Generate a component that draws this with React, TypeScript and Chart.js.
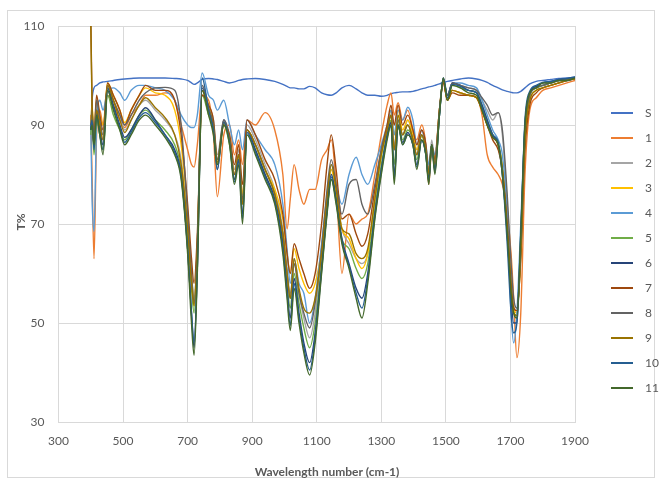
import React, { useEffect, useRef } from 'react';
import { Chart, registerables } from 'chart.js';

Chart.register(...registerables);

const wavenumbers = [
  400, 404, 410, 418, 428, 438, 452, 470, 490, 505,
  525, 550, 570, 600, 630, 660, 680, 700, 712, 720,
  730, 745, 765, 780, 792, 812, 830, 845, 858, 870,
  884, 910, 940, 970, 995, 1008, 1018, 1030, 1045, 1060,
  1078, 1095, 1115, 1132, 1145, 1160, 1178, 1200, 1222, 1240,
  1258, 1280, 1300, 1318, 1330, 1340, 1352, 1366, 1382, 1398,
  1410, 1425, 1438, 1447, 1456, 1466, 1480, 1492, 1505, 1520,
  1545, 1570, 1595, 1612, 1628, 1645, 1662, 1675, 1690, 1702,
  1710, 1720, 1732, 1745, 1760, 1780, 1800, 1825, 1850, 1875,
  1900,
];

const seriesS = [
  89, 95, 97.5, 98, 98.5, 98.7, 98.8, 99, 99.2, 99.3,
  99.4, 99.5, 99.5, 99.5, 99.5, 99.4, 99.3, 99, 98.5, 98.2,
  98.5, 99.2, 99.4, 99.3, 99.2, 98.8, 98.5, 98.7, 99, 99.2,
  99.3, 99.4, 99.2, 98.8, 98.2, 97.8, 97.5, 97.5, 97.3, 97.3,
  97.8, 97.5, 96.5, 96.1, 96, 96.5, 97.5, 98, 97.3, 96.5,
  96, 96, 95.8, 96, 96.3, 96.5, 96.6, 96.7, 96.7, 96.8,
  97, 97.3, 97.5, 97.7, 97.8, 98, 98.3, 98.6, 98.8, 99,
  99.3, 99.5, 99.3, 99, 98.6, 98, 97.5, 97.1, 96.8, 96.6,
  96.5, 96.5, 96.8, 97.5, 98.3, 98.8, 99, 99.2, 99.4, 99.5,
  99.7,
];
const series1 = [
  92, 80, 63, 88, 93, 90, 96, 94, 91, 89.5,
  92, 94, 96, 96, 96.5, 95, 90, 85, 82, 81.5,
  86, 96, 95, 88, 75.5, 88, 90, 84, 87, 82,
  91, 90, 92.5, 89, 80, 69, 75, 82, 77, 74,
  77, 77, 83, 85, 87, 78, 60, 72, 70, 71,
  72, 80, 88, 94, 96.5, 92, 94.5, 91, 93, 89,
  87, 90, 86, 78, 85, 84, 93, 98.5, 95, 97,
  96.5, 96, 95.5, 92, 84, 81.5, 80, 78, 72, 64,
  55, 43, 52, 80, 93, 95.5, 97, 97.5, 98, 98.5,
  99,
];
const series2 = [
  89, 92, 85, 93, 90, 87, 98, 95, 92, 89,
  91, 94, 95, 93, 91, 88, 83, 70, 60, 55,
  66, 98, 94, 91, 84, 91, 88, 81, 85, 76,
  90, 87, 82, 77, 69, 61, 56, 62, 56, 51,
  47, 52, 64, 75, 81, 77, 69, 66, 63, 62,
  64, 75, 84, 89, 92, 86, 92, 88, 91, 88,
  85, 89, 85, 81, 87, 83, 93, 99, 96, 98.5,
  98, 97.5, 97, 95, 93, 91, 92.5, 88, 74, 60,
  54, 53, 66, 88, 96, 97.5, 98, 98.5, 99, 99.3,
  99.6,
];
const series3 = [
  90, 94, 88, 95, 92, 90, 98.5, 96, 93, 90.5,
  93, 96, 97.5, 96.5, 96, 93, 86, 72, 60, 53.5,
  66, 97, 94, 90, 82, 90, 87, 80, 84, 76,
  89, 86, 81, 77, 71, 64, 60, 65, 61, 58,
  56, 58, 65, 75, 81, 76, 69, 67, 63, 61,
  64, 75, 84, 89, 93, 88, 93, 89, 91, 88,
  85, 88, 85, 80, 86, 83, 93, 99, 95, 97,
  96.5, 96, 95.5, 93, 90, 88, 86, 82, 70, 58,
  53, 52, 64, 87, 95, 97, 97.5, 98, 98.5, 99,
  99.4,
];
const series4 = [
  90, 75, 68.5, 90, 95, 93, 97, 97.5, 96.5, 95,
  97, 98, 98, 97.5, 97, 95, 92, 90, 89.5, 89.5,
  92, 100.5, 96, 95, 93, 95, 90, 86, 89, 85,
  91, 88, 85, 82, 74, 65, 58, 63, 58, 56,
  50, 55, 66, 76, 82, 78, 74, 80, 83.5, 80,
  78, 82, 86, 90, 93, 88, 93, 91, 93.6, 91,
  86, 89, 86, 82, 86, 84, 92, 99, 96, 98.5,
  98.5, 98, 97.5, 95, 92, 89, 87, 84, 72, 52,
  46, 52, 70, 90, 96, 97.5, 98, 98.5, 99, 99,
  99.5,
];
const series5 = [
  88, 91, 84, 91, 88, 85, 96, 92, 89, 87,
  89, 92, 93, 91, 89, 86, 81, 68, 57, 52,
  64, 96, 92, 89, 82, 90, 86, 79, 83, 74,
  88, 85, 80, 75, 67, 58, 53, 60, 54, 49,
  45, 50, 62, 73, 79, 75, 67, 65, 61, 59,
  62, 73, 82, 88, 91, 82, 91, 87, 89, 87,
  83, 88, 84, 79, 86, 81, 92, 99, 95, 98,
  97.5, 97, 96.5, 94, 91, 88, 86.5, 81, 69, 57,
  52, 51.5, 66, 89, 96, 97.5, 98, 98.5, 99, 99.2,
  99.5,
];
const series6 = [
  89, 91, 86, 93, 89, 86, 97.5, 94, 90, 87.5,
  89, 92, 93.5, 91, 88, 85, 80, 65, 52, 45,
  61, 97.5, 93, 89, 81, 91, 87, 79, 83, 72,
  89, 85, 80, 75, 66, 57, 51, 59, 52, 46,
  42, 48, 61, 73, 80, 75, 67, 62, 57, 55,
  60, 72, 81, 88, 90.5, 80, 90, 86.5, 88.5, 86,
  82, 87, 84, 79, 86, 81, 92, 99.5, 96, 98.5,
  98, 97, 96.5, 94, 91, 88, 86, 80, 68, 55,
  50, 50, 67, 90, 96.5, 97.8, 98.5, 98.8, 99.2, 99.3,
  99.6,
];
const series7 = [
  112, 95, 88, 96, 92, 89, 98.5, 96, 93, 90,
  93, 96, 98, 97, 97, 95, 88, 74, 63, 58,
  68, 96, 94, 91, 83, 90, 88, 82, 86, 78,
  91, 88, 83, 79, 72, 64, 60, 66, 63, 60,
  57, 60, 70, 82, 88, 81, 71, 72, 68, 65.5,
  68, 77, 85, 90, 94, 90, 94, 90, 92, 89,
  86, 89, 86, 80, 86, 83, 93, 98.5, 95, 96.5,
  96, 96, 95.5, 93, 90, 87, 85, 81, 70, 58,
  53, 52.5, 63, 85, 94, 96.5, 97.5, 98, 98.5, 99,
  99.3,
];
const series8 = [
  90, 93, 87, 95, 91, 88, 98, 95, 92, 90,
  92, 95, 96.5, 97.5, 97.6, 97, 90, 72, 60, 54,
  66, 98, 93.5, 90, 83, 91, 87, 80, 84, 75,
  89, 86, 81, 76, 68, 60, 55, 62, 56, 52,
  49, 54, 65, 77, 83, 78, 72, 78, 79, 74,
  72, 78, 85, 89, 92, 85, 91, 88, 90, 87,
  84, 88, 85, 80, 86, 82, 93, 99, 96, 98.5,
  98, 97.5, 97, 95.5, 94, 92, 92.5, 89, 76, 62,
  55, 53, 65, 88, 96, 97.5, 98, 98.5, 99, 99.2,
  99.5,
];
const series9 = [
  111, 93, 86, 93, 90, 87, 98, 95, 91, 88.5,
  91, 94, 95.5, 93.5, 91.5, 88, 82, 69, 58, 53.5,
  65, 97, 93, 89.5, 82.5, 90.5, 87, 80, 84, 74,
  89, 86, 81, 76, 68, 60, 55, 63, 57, 53,
  52, 55, 64, 75, 82, 77, 69, 68, 64, 63,
  65, 75, 84, 89, 92, 85, 92, 88, 90, 87,
  84, 88, 85, 80, 86, 82, 92.5, 99, 95, 97,
  96.5, 96, 95.5, 93, 90, 87.5, 86, 81, 69, 57,
  52, 51.5, 64, 87, 95, 97, 97.5, 98, 98.5, 99,
  99.3,
];
const series10 = [
  89, 91, 85, 92, 88, 85, 97, 93.5, 89.5, 86.5,
  88.5, 91.5, 92.5, 90.5, 88, 84.5, 79.5, 65, 52, 46,
  61, 99.5, 93, 89, 81, 90.5, 86.5, 78.5, 83, 71,
  88.5, 84.5, 79.5, 74.5, 65, 56, 49.5, 58, 51, 45,
  40.5, 47, 60.5, 72.5, 79.5, 74.5, 66.5, 61.5, 56, 53,
  59, 71.5, 80.5, 87.5, 90, 79, 90, 86, 88, 86,
  81.5, 87, 84, 78.5, 86, 80.5, 92, 99.5, 95.5, 98.2,
  97.8, 97, 96.5, 93.5, 90.5, 88, 86.5, 80, 66, 52,
  48, 50, 68, 91, 96.8, 98, 98.6, 98.8, 99.2, 99.4,
  99.7,
];
const series11 = [
  89, 90, 86, 92, 88, 84, 97, 93, 89, 86,
  88, 91, 92, 90, 87.5, 84, 79, 64, 50, 43.5,
  60, 97, 92, 88, 82, 90, 86, 78, 82, 70,
  88, 84, 79, 74, 64, 55, 48.5, 57, 50, 44,
  39.5, 46, 60, 72, 79, 74, 66, 61, 55, 51,
  58, 71, 80, 87, 90, 78, 90, 86, 88, 86,
  81, 87, 84, 78, 86, 80, 92, 99.5, 95, 98,
  97.5, 96.5, 96, 93, 90, 87.5, 86, 80, 68, 56,
  52, 51, 68, 90, 96.5, 97.5, 98.5, 98.5, 99, 99,
  99.5,
];

const seriesNames = ['S', '1', '2', '3', '4', '5', '6', '7', '8', '9', '10', '11'];
const seriesValues = [seriesS, series1, series2, series3, series4, series5, series6, series7, series8, series9, series10, series11];
const seriesColors = [
  '#4472C4', '#ED7D31', '#A5A5A5', '#FFC000', '#5B9BD5', '#70AD47',
  '#264478', '#9E480E', '#636363', '#997300', '#255E91', '#43682B',
];

const xTickValues = [300, 500, 700, 900, 1100, 1300, 1500, 1700, 1900];
const yTickValues = [30, 50, 70, 90, 110];
const xTitle = 'Wavelength number (cm-1)';
const yTitle = 'T%';

const FONT = 'Lato, "Liberation Sans", sans-serif';
const TEXT = '#595959';
const GRID = '#D9D9D9';

const decorPlugin = {
  id: 'decor',
  beforeDraw(chart: any) {
    const ctx = chart.ctx;
    ctx.save();
    ctx.fillStyle = '#ffffff';
    ctx.fillRect(0, 0, chart.width, chart.height);
    ctx.strokeStyle = GRID;
    ctx.lineWidth = 1;
    ctx.strokeRect(7.5, 10.5, 647, 467);
    ctx.restore();
  },
  afterDraw(chart: any) {
    const ctx = chart.ctx;
    ctx.save();
    ctx.fillStyle = TEXT;
    ctx.font = `bold 12px ${FONT}`;
    ctx.textAlign = 'center';
    ctx.textBaseline = 'middle';
    ctx.fillText(xTitle, 327, 472);
    ctx.translate(21.5, 222);
    ctx.rotate(-Math.PI / 2);
    ctx.fillText(yTitle, 0, 0);
    ctx.restore();

    ctx.save();
    ctx.font = `12px ${FONT}`;
    ctx.textAlign = 'left';
    ctx.textBaseline = 'middle';
    seriesNames.forEach((name, i) => {
      const y = 113 + i * 25;
      ctx.strokeStyle = seriesColors[i];
      ctx.lineWidth = 2;
      ctx.beginPath();
      ctx.moveTo(611, y);
      ctx.lineTo(633, y);
      ctx.stroke();
      ctx.fillStyle = TEXT;
      ctx.fillText(name, 645, y);
    });
    ctx.restore();
  },
};

export default function App() {
  const canvasRef = useRef<HTMLCanvasElement | null>(null);

  useEffect(() => {
    if (!canvasRef.current) return;
    const datasets = seriesValues.map((vals, i) => ({
      label: seriesNames[i],
      data: wavenumbers.map((x, j) => ({ x, y: vals[j] })),
      borderColor: seriesColors[i],
      backgroundColor: seriesColors[i],
      borderWidth: 1.4,
      pointRadius: 0,
      fill: false,
      cubicInterpolationMode: 'monotone' as const,
      order: seriesNames.length - 1 - i,
    }));

    const chart = new Chart(canvasRef.current, {
      type: 'line',
      data: { datasets },
      plugins: [decorPlugin],
      options: {
        animation: false,
        responsive: false,
        maintainAspectRatio: false,
        devicePixelRatio: 1,
        layout: { padding: { left: 0, top: 26, right: 84, bottom: 0 } },
        plugins: {
          legend: { display: false },
          tooltip: { enabled: false },
          title: { display: false },
        },
        scales: {
          x: {
            type: 'linear',
            min: 300,
            max: 1900,
            afterBuildTicks: (scale: any) => {
              scale.ticks = xTickValues.map((v) => ({ value: v }));
            },
            afterFit: (scale: any) => {
              scale.height = 63;
            },
            grid: { color: GRID, drawTicks: false, lineWidth: 1 },
            border: { display: true, color: GRID },
            ticks: {
              color: TEXT,
              font: { family: FONT, size: 12 },
              padding: 12,
              maxRotation: 0,
              autoSkip: false,
              callback: (v: any) => String(v),
            },
          },
          y: {
            type: 'linear',
            min: 30,
            max: 110,
            afterBuildTicks: (scale: any) => {
              scale.ticks = yTickValues.map((v) => ({ value: v }));
            },
            afterFit: (scale: any) => {
              scale.width = 58.5;
            },
            grid: { color: GRID, drawTicks: false, lineWidth: 1 },
            border: { display: true, color: GRID },
            ticks: {
              color: TEXT,
              font: { family: FONT, size: 12 },
              padding: 14,
              autoSkip: false,
              callback: (v: any) => String(v),
            },
          },
        },
      },
    });
    return () => chart.destroy();
  }, []);

  return (
    <div style={{ position: 'fixed', left: 0, top: 0, width: 659, height: 485, background: '#fff' }}>
      <canvas ref={canvasRef} width={659} height={485} style={{ width: 659, height: 485, display: 'block' }} />
    </div>
  );
}
